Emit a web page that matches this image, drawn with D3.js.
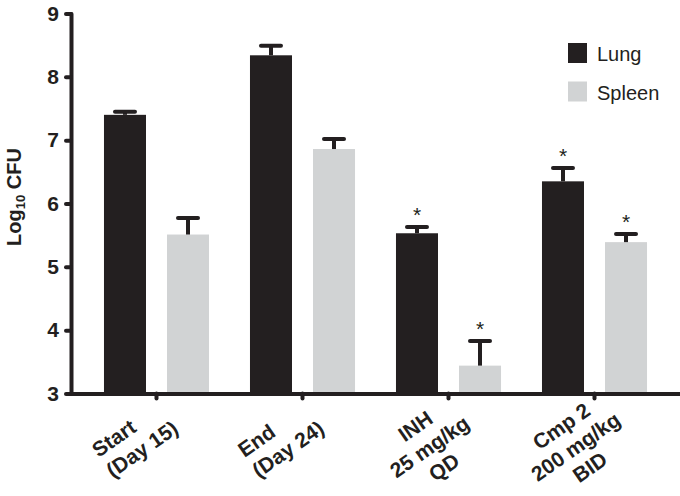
<!DOCTYPE html>
<html>
<head>
<meta charset="utf-8">
<script src="https://cdn.jsdelivr.net/npm/d3@7/dist/d3.min.js"></script>
<style>
  html, body { margin: 0; padding: 0; background: #fff; }
  svg { display: block; }
  text { font-family: "Liberation Sans", Arial, Helvetica, sans-serif; fill: #231f20; }
</style>
</head>
<body>
<svg id="chart" width="680" height="496"></svg>
<script>
// ---- data ----
const categories = ["Start", "End", "INH", "Cmp 2"];
const categoryLines = [
  ["Start", "(Day 15)"],
  ["End", "(Day 24)"],
  ["INH", "25 mg/kg", "QD"],
  ["Cmp 2", "200 mg/kg", "BID"]
];
const seriesNames = ["Lung", "Spleen"];
const lungMean   = [7.40, 8.34, 5.53, 6.35];
const lungErr    = [0.05, 0.15, 0.10, 0.21];
const spleenMean = [5.51, 6.86, 3.44, 5.39];
const spleenErr  = [0.26, 0.16, 0.39, 0.13];
const lungSig    = [false, false, true, true];
const spleenSig  = [false, false, true, true];
const yTicks = [3, 4, 5, 6, 7, 8, 9];
const yTitle = "Log";
const yTitleSub = "10";
const yTitleRest = " CFU";

// ---- layout ----
const colors = { Lung: "#231f20", Spleen: "#d1d3d4" };
const ink = "#231f20";
const svg = d3.select("#chart");

const x = d3.scaleBand().domain(categories).range([71, 680])
  .paddingInner(0).paddingOuter(0.0856);
const xs = d3.scaleBand().domain(seriesNames).range([0, x.bandwidth()])
  .paddingInner(1 / 3).paddingOuter(0.325);
const y = d3.scaleLinear().domain([3, 9]).range([393.5, 13.5]);

const rows = [];
categories.forEach((c, i) => {
  rows.push({ cat: c, s: "Lung", v: lungMean[i], e: lungErr[i], sig: lungSig[i] });
  rows.push({ cat: c, s: "Spleen", v: spleenMean[i], e: spleenErr[i], sig: spleenSig[i] });
});

// bars
svg.append("g").selectAll("rect").data(rows).join("rect")
  .attr("x", d => x(d.cat) + xs(d.s))
  .attr("y", d => y(d.v))
  .attr("width", xs.bandwidth())
  .attr("height", d => y(3) - y(d.v))
  .attr("fill", d => colors[d.s]);

// error bars (upper only)
const eb = svg.append("g").attr("stroke", ink).attr("stroke-width", 4);
eb.selectAll("line.stem").data(rows).join("line").attr("class", "stem")
  .attr("x1", d => x(d.cat) + xs(d.s) + xs.bandwidth() / 2)
  .attr("x2", d => x(d.cat) + xs(d.s) + xs.bandwidth() / 2)
  .attr("y1", d => y(d.v))
  .attr("y2", d => y(d.v + d.e));
eb.selectAll("line.cap").data(rows).join("line").attr("class", "cap")
  .attr("stroke-linecap", "round")
  .attr("x1", d => x(d.cat) + xs(d.s) + xs.bandwidth() / 2 - 10)
  .attr("x2", d => x(d.cat) + xs(d.s) + xs.bandwidth() / 2 + 10)
  .attr("y1", d => y(d.v + d.e))
  .attr("y2", d => y(d.v + d.e));

// significance stars
svg.append("g").selectAll("text").data(rows.filter(d => d.sig)).join("text")
  .attr("x", d => x(d.cat) + xs(d.s) + xs.bandwidth() / 2)
  .attr("y", d => y(d.v + d.e) - 5)
  .attr("text-anchor", "middle")
  .style("font-size", "21px")
  .text("*");

// y axis
const yAxis = svg.append("g").attr("transform", "translate(71,0)")
  .call(d3.axisLeft(y).tickValues(yTicks).tickFormat(d3.format("d"))
    .tickSize(5).tickSizeOuter(0).tickPadding(7));
yAxis.select(".domain").attr("stroke", ink).attr("stroke-width", 4).attr("stroke-linecap", "round");
yAxis.selectAll(".tick line").attr("stroke", ink).attr("stroke-width", 4).attr("stroke-linecap", "round");
yAxis.selectAll(".tick text").attr("fill", ink)
  .style("font-size", "21px").style("font-weight", "bold")
  .style("font-family", "'Liberation Sans', Arial, sans-serif");

// x axis
const xAxis = svg.append("g").attr("transform", "translate(0,393.5)")
  .call(d3.axisBottom(x).tickSize(5).tickSizeOuter(0).tickFormat(""));
xAxis.select(".domain").attr("stroke", ink).attr("stroke-width", 4).attr("stroke-linecap", "round");
xAxis.selectAll(".tick line").attr("stroke", ink).attr("stroke-width", 4).attr("stroke-linecap", "round");

// x category labels (rotated multi-line)
const angle = -35;
const lh = 25;
categories.forEach((c, i) => {
  const lines = categoryLines[i];
  const cx = x(c) + x.bandwidth() / 2;
  const leftAligned = lines.length === 2;
  const ox = leftAligned ? cx - 58 : cx - 29;
  const oy = leftAligned ? 393.5 + 64.5 : 393.5 + 38.7;
  const t = svg.append("text")
    .attr("transform", `translate(${ox},${oy}) rotate(${angle})`)
    .attr("text-anchor", leftAligned ? "start" : "middle")
    .style("font-size", "21px").style("font-weight", "bold");
  lines.forEach((ln, j) => {
    t.append("tspan").attr("x", 0).attr("dy", j === 0 ? 0 : lh).text(ln);
  });
});

// y title
const yt = svg.append("text")
  .attr("transform", "translate(21,197) rotate(-90)")
  .attr("text-anchor", "middle")
  .style("font-size", "20px").style("font-weight", "bold");
yt.append("tspan").text(yTitle);
yt.append("tspan").attr("dy", 4).style("font-size", "13px").text(yTitleSub);
yt.append("tspan").attr("dy", -4).text(yTitleRest);

// legend
const lg = svg.append("g").selectAll("g").data(seriesNames).join("g")
  .attr("transform", (d, i) => `translate(568,${43 + i * 38.5})`);
lg.append("rect").attr("width", 19).attr("height", 20).attr("fill", d => colors[d]);
lg.append("text").attr("x", 29).attr("y", 18)
  .style("font-size", "20px").text(d => d);
</script>
</body>
</html>
